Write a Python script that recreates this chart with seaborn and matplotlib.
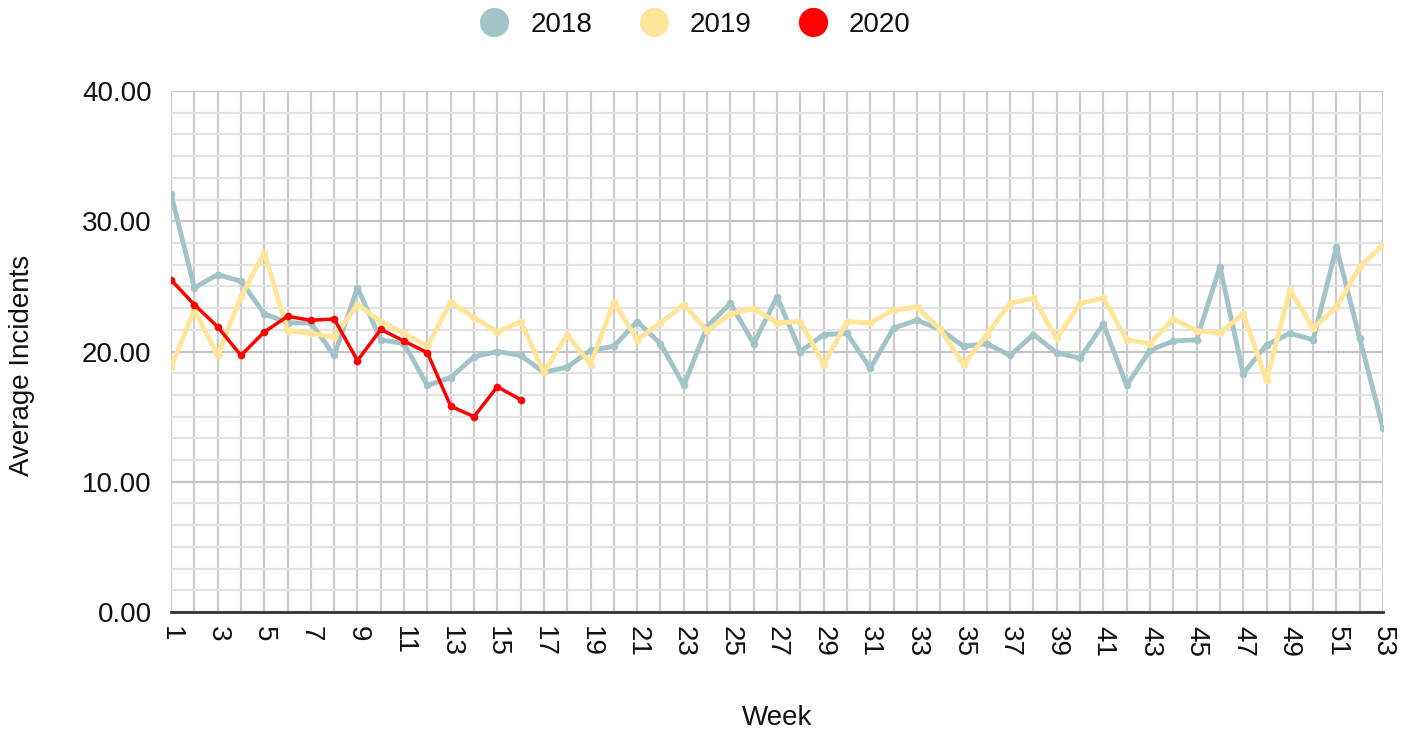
import numpy as np
import pandas as pd
import matplotlib
matplotlib.use("Agg")
import matplotlib.pyplot as plt
from matplotlib.lines import Line2D
from matplotlib.ticker import MultipleLocator
import seaborn as sns

# Werte
weeks = list(range(1, 54))
inc_2018 = [32.1, 24.9, 25.9, 25.4, 22.9, 22.2, 22.2, 19.7, 24.9, 20.9,
            20.6, 17.4, 18.0, 19.6, 20.0, 19.7, 18.4, 18.8, 20.1, 20.4,
            22.3, 20.6, 17.4, 21.9, 23.7, 20.6, 24.2, 20.0, 21.3, 21.4,
            18.7, 21.8, 22.4, 21.7, 20.4, 20.6, 19.7, 21.3, 19.9, 19.5,
            22.1, 17.4, 20.1, 20.8, 20.9, 26.5, 18.3, 20.5, 21.4, 20.9,
            28.0, 21.0, 14.1]
inc_2019 = [18.8, 23.2, 19.7, 24.2, 27.6, 21.6, 21.4, 21.1, 23.6, 22.3,
            21.4, 20.4, 23.8, 22.6, 21.5, 22.3, 18.4, 21.3, 19.0, 23.8,
            20.9, 22.2, 23.6, 21.6, 22.9, 23.3, 22.2, 22.3, 19.0, 22.3,
            22.2, 23.2, 23.4, 21.7, 19.0, 21.3, 23.7, 24.1, 21.0, 23.7,
            24.1, 20.9, 20.6, 22.5, 21.6, 21.4, 22.9, 17.8, 24.7, 21.8,
            23.4, 26.5, 28.2]
inc_2020 = [25.5, 23.6, 21.9, 19.7, 21.5, 22.7, 22.4, 22.5, 19.3, 21.7,
            20.8, 19.9, 15.8, 15.0, 17.3, 16.3]

years = ["2018", "2019", "2020"]
farben = {"2018": "#a2c4c9", "2019": "#ffe599", "2020": "#ff0000"}
breiten = {"2018": 3.5, "2019": 3.5, "2020": 2.5}

df = pd.concat([
    pd.DataFrame({"Week": weeks, "Incidents": inc_2018, "Year": "2018"}),
    pd.DataFrame({"Week": weeks, "Incidents": inc_2019, "Year": "2019"}),
    pd.DataFrame({"Week": weeks[:len(inc_2020)], "Incidents": inc_2020, "Year": "2020"}),
])

sns.set_style("white")
plt.rcParams["font.family"] = ["Liberation Sans", "DejaVu Sans"]
plt.rcParams["text.color"] = "#111111"
plt.rcParams["axes.labelcolor"] = "#111111"
plt.rcParams["xtick.color"] = "#111111"
plt.rcParams["ytick.color"] = "#111111"

fig = plt.figure(figsize=(14.11, 7.35), dpi=100)
ax = fig.add_axes([0.1212, 0.1673, 0.8590, 0.7089])

for y in years:
    sns.lineplot(data=df[df["Year"] == y], x="Week", y="Incidents",
                 color=farben[y], linewidth=breiten[y], marker="o",
                 markersize=5.5, markeredgewidth=0, ax=ax, legend=False, zorder=3)

ax.set_xlim(1, 53)
ax.set_ylim(0, 40)
ax.set_xticks(weeks[::2])
ax.xaxis.set_minor_locator(MultipleLocator(1))
ax.set_yticks([0, 10, 20, 30, 40])
ax.set_yticklabels([f"{v:.2f}" for v in [0, 10, 20, 30, 40]])
ax.yaxis.set_minor_locator(MultipleLocator(10 / 6))

ax.grid(True, which="major", axis="y", color="#c4c4c4", linewidth=1.6)
ax.grid(True, which="minor", axis="y", color="#e2e2e2", linewidth=1.6)
ax.grid(True, which="both", axis="x", color="#cccccc", linewidth=1.6)
ax.set_axisbelow(True)

for s in ["left", "right", "top"]:
    ax.spines[s].set_visible(False)
ax.spines["bottom"].set_color("#333333")
ax.spines["bottom"].set_linewidth(2)

ax.tick_params(axis="x", which="both", length=0, labelsize=20, pad=10, labelrotation=-90)
ax.tick_params(axis="y", which="both", length=0, labelsize=20, pad=14)
for t in ax.get_xticklabels():
    t.set_verticalalignment("top")

ax.set_xlabel("Week", fontsize=20)
ax.set_ylabel("Average Incidents", fontsize=20)
ax.xaxis.set_label_coords(0.5, -0.2035)
ax.yaxis.set_label_coords(-0.123, 0.474)
ax.xaxis.label.set_verticalalignment("center")
ax.yaxis.label.set_verticalalignment("center")

handles = [Line2D([], [], marker="o", linestyle="", markersize=21,
                  color=farben[y], markeredgewidth=0) for y in years]
fig.legend(handles, years, loc="center", bbox_to_anchor=(0.488, 0.966),
           ncol=3, frameon=False, fontsize=20, handletextpad=0.3,
           columnspacing=1.2)

plt.savefig("out.png", dpi=100)
